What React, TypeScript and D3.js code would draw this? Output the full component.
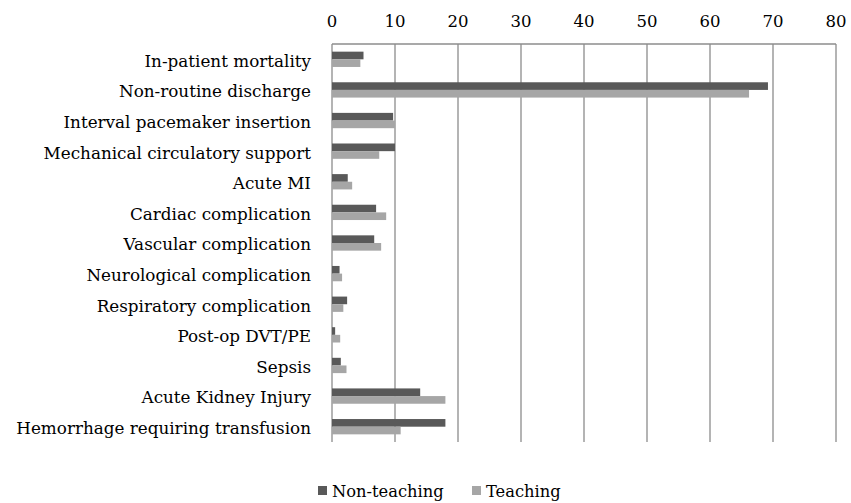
import React from "react";
import * as d3 from "d3";

const categories = [
  "In-patient mortality",
  "Non-routine discharge",
  "Interval pacemaker insertion",
  "Mechanical circulatory support",
  "Acute MI",
  "Cardiac complication",
  "Vascular complication",
  "Neurological complication",
  "Respiratory complication",
  "Post-op DVT/PE",
  "Sepsis",
  "Acute Kidney Injury",
  "Hemorrhage requiring transfusion",
];
const nonTeaching = [5.0, 69.2, 9.7, 10.0, 2.5, 7.0, 6.7, 1.2, 2.4, 0.5, 1.4, 14.0, 18.0];
const teaching = [4.5, 66.2, 10.0, 7.5, 3.2, 8.6, 7.8, 1.6, 1.8, 1.3, 2.3, 18.0, 10.9];
const xTicks = [0, 10, 20, 30, 40, 50, 60, 70, 80];
const seriesNames = ["Non-teaching", "Teaching"];
const colors = ["#595959", "#a6a6a6"];

const W = 851, H = 503;
const FONT = "'DejaVu Serif', serif";

export default function App() {
  const x = d3.scaleLinear().domain([0, 80]).range([332, 836]);
  const y = d3.scaleBand().domain(categories).range([44, 442]).paddingInner(0.5).paddingOuter(0.25);
  const sub = d3.scaleBand().domain(seriesNames).range([0, y.bandwidth()]);
  const series = [nonTeaching, teaching];
  return (
    <svg width={W} height={H} style={{ position: "absolute", left: 0, top: 0, background: "#fff" }}>
      {xTicks.map((t) => (
        <g key={t}>
          <line x1={x(t)} x2={x(t)} y1={44} y2={442} stroke="#8c8c8c" strokeWidth={1.3} />
          <text x={x(t)} y={27} textAnchor="middle" fontFamily={FONT} fontSize={16.5} fill="#000">{t}</text>
        </g>
      ))}
      <line x1={x(0)} x2={x(80)} y1={44} y2={44} stroke="#8c8c8c" strokeWidth={1.3} />
      {series.map((vals, si) =>
        vals.map((v, i) => (
          <rect key={si + "-" + i} x={x(0)} y={(y(categories[i]) as number) + (sub(seriesNames[si]) as number)}
            width={x(v) - x(0)} height={sub.bandwidth()} fill={colors[si]} />
        ))
      )}
      {categories.map((c) => (
        <text key={c} x={311} y={(y(c) as number) + y.bandwidth() / 2 + 1.5} dy="0.35em" textAnchor="end"
          fontFamily={FONT} fontSize={16.8} fill="#000">{c}</text>
      ))}
      {seriesNames.map((s, i) => {
        const lx = [318, 472][i];
        return (
          <g key={s}>
            <rect x={lx} y={486} width={9} height={9} fill={colors[i]} />
            <text x={lx + 14} y={491} dy="0.35em" fontFamily={FONT} fontSize={16.3} fill="#000">{s}</text>
          </g>
        );
      })}
    </svg>
  );
}
